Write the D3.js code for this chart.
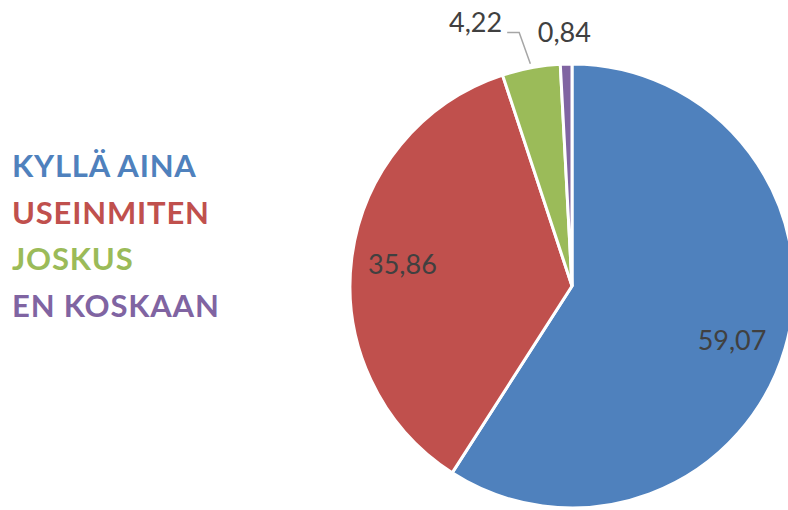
<!DOCTYPE html>
<html>
<head>
<meta charset="utf-8">
<script src="https://cdn.jsdelivr.net/npm/d3@7"></script>
<style>
  body { margin: 0; background: #fff; }
  svg { display: block; }
</style>
</head>
<body>
<svg width="788" height="510"></svg>
<script>
const categories = ["KYLLÄ AINA", "USEINMITEN", "JOSKUS", "EN KOSKAAN"];
const values = [59.07, 35.86, 4.22, 0.84];
const labels = ["59,07", "35,86", "4,22", "0,84"];
const palette = ["#4F81BD", "#C0504D", "#9BBB59", "#8064A2"];

const svg = d3.select("svg");
const cx = 572, cy = 286, radius = 222;

const data = categories.map((c, i) => ({ name: c, value: values[i], label: labels[i], i }));

const pie = d3.pie().value(d => d.value).sort(null);
const arcs = pie(data);

const arc = d3.arc().innerRadius(0).outerRadius(radius);
const labelArc = d3.arc().innerRadius(radius * 0.77).outerRadius(radius * 0.77);

const g = svg.append("g").attr("transform", `translate(${cx},${cy})`);

g.selectAll("path.slice")
  .data(arcs)
  .enter()
  .append("path")
  .attr("class", "slice")
  .attr("d", arc)
  .attr("fill", d => palette[d.data.i])
  .attr("stroke", "#fff")
  .attr("stroke-width", 3)
  .attr("stroke-linejoin", "miter");

// labels inside the big slices
const big = arcs.filter(d => d.data.value > 10);
g.selectAll("text.inside")
  .data(big)
  .enter()
  .append("text")
  .attr("class", "inside")
  .attr("x", d => labelArc.centroid(d)[0] - (d.data.i === 0 ? 4 : 0))
  .attr("y", d => labelArc.centroid(d)[1] + (d.data.i === 0 ? 6 : 0))
  .attr("dy", "0.35em")
  .attr("text-anchor", "middle")
  .attr("font-family", "Lato, 'Open Sans', sans-serif")
  .attr("font-size", 27)
  .attr("fill", "#404040")
  .text(d => d.data.label);

// small slices get labels above the pie
const point = (a, r) => [Math.sin(a) * r, -Math.cos(a) * r];

const green = arcs[2];
const gMid = (green.startAngle + green.endAngle) / 2;
const p0 = point(gMid, radius + 4);
const p1 = point(gMid - 0.02, radius + 37);
const p2 = [p1[0] - 12, p1[1]];

g.append("path")
  .attr("d", d3.line()([p0, p1, p2]))
  .attr("fill", "none")
  .attr("stroke", "#a6a6a6")
  .attr("stroke-width", 1.5);

g.append("text")
  .attr("x", p2[0] - 5)
  .attr("y", p2[1] - 10)
  .attr("dy", "0.35em")
  .attr("text-anchor", "end")
  .attr("font-family", "Lato, 'Open Sans', sans-serif")
  .attr("font-size", 27)
  .attr("fill", "#404040")
  .text(green.data.label);

const purple = arcs[3];
const pMid = (purple.startAngle + purple.endAngle) / 2;
const pp = point(pMid, radius + 32);
g.append("text")
  .attr("x", pp[0] - 1)
  .attr("y", pp[1])
  .attr("dy", "0.35em")
  .attr("text-anchor", "middle")
  .attr("font-family", "Lato, 'Open Sans', sans-serif")
  .attr("font-size", 27)
  .attr("fill", "#404040")
  .text(purple.data.label);

// legend as coloured text
const legendY = d3.scalePoint().domain(categories).range([177, 317]);
svg.append("g")
  .selectAll("text")
  .data(data)
  .enter()
  .append("text")
  .attr("x", 12)
  .attr("y", d => legendY(d.name))
  .attr("font-family", "Lato, 'Open Sans', sans-serif")
  .attr("font-weight", "bold")
  .attr("font-size", 31)
  .attr("letter-spacing", 0.8)
  .attr("fill", d => palette[d.i])
  .text(d => d.name);
</script>
</body>
</html>
